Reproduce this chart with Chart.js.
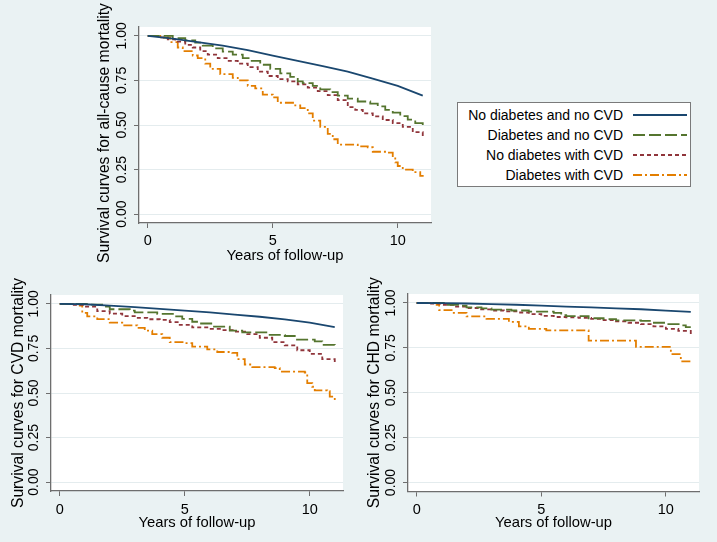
<!DOCTYPE html>
<html>
<head>
<meta charset="utf-8">
<script src="https://cdn.jsdelivr.net/npm/chart.js@4.4.0/dist/chart.umd.min.js"></script>
<style>
  html, body { margin: 0; padding: 0; background: #eaf2f3; }
  body { width: 717px; height: 542px; position: relative; overflow: hidden; font-family: "Liberation Sans", Arial, sans-serif; }
  canvas { position: absolute; }
  #legend { position: absolute; left: 457px; top: 102px; width: 232px; height: 83px; background: #fff; border: 1px solid #7a7a7a; }
  .row { position: absolute; left: 0; width: 100%; height: 20px; font-size: 14px; line-height: 20px; color: #000; }
  .row span { position: absolute; right: 67px; white-space: nowrap; }
  .row svg { position: absolute; left: 175px; top: 8px; }
</style>
</head>
<body>
<canvas id="allCause" width="450" height="270" style="left:0;top:0"></canvas>
<canvas id="cvd" width="358" height="272" style="left:0;top:270px"></canvas>
<canvas id="chd" width="359" height="272" style="left:358px;top:270px"></canvas>
<div id="legend"></div>
<script>
// series labels + axis ticks
const seriesLabels = ['No diabetes and no CVD', 'Diabetes and no CVD', 'No diabetes with CVD', 'Diabetes with CVD'];
const xTicks = [0, 5, 10];
const yTicks = [0, 0.25, 0.5, 0.75, 1];
const xTitle = 'Years of follow-up';

// all-cause mortality  [years, survival]
const allNoDmNoCvd = [[0,1],[1,0.985],[2,0.965],[3,0.945],[4,0.92],[5,0.89],[6,0.86],[7,0.83],[8,0.80],[9,0.76],[10,0.72],[11,0.665]];
const allDmNoCvd = [[0,1],[1.0,0.988],[1.5,0.975],[1.9,0.962],[2.2,0.945],[2.6,0.93],[3.0,0.912],[3.4,0.895],[3.8,0.875],[4.1,0.86],[4.5,0.838],[4.9,0.815],[5.3,0.79],[5.7,0.77],[6.0,0.745],[6.2,0.735],[6.6,0.72],[6.9,0.70],[7.3,0.685],[7.6,0.665],[8.0,0.648],[8.4,0.632],[8.9,0.62],[9.2,0.605],[9.5,0.585],[9.8,0.57],[10.1,0.55],[10.4,0.53],[10.7,0.51],[11,0.50]];
const allNoDmCvd = [[0,1],[0.4,0.992],[0.8,0.98],[1.1,0.968],[1.5,0.95],[1.8,0.935],[2.1,0.915],[2.4,0.895],[2.8,0.875],[3.2,0.86],[3.6,0.845],[4.0,0.825],[4.4,0.8],[4.8,0.775],[5.2,0.757],[5.6,0.745],[6.0,0.728],[6.4,0.71],[6.8,0.69],[7.2,0.668],[7.6,0.64],[8.0,0.6],[8.3,0.585],[8.6,0.565],[9.0,0.548],[9.4,0.528],[9.8,0.51],[10.2,0.49],[10.6,0.46],[11,0.435]];
const allDmCvd = [[0,1],[0.5,0.99],[0.9,0.965],[1.2,0.935],[1.4,0.915],[1.8,0.89],[2.0,0.875],[2.3,0.845],[2.5,0.815],[2.9,0.785],[3.4,0.765],[3.6,0.75],[4.0,0.72],[4.3,0.705],[4.6,0.67],[5.0,0.655],[5.2,0.625],[5.9,0.61],[6.1,0.595],[6.4,0.565],[6.6,0.525],[6.9,0.49],[7.2,0.45],[7.4,0.42],[7.6,0.39],[8.4,0.38],[8.8,0.375],[9.0,0.35],[9.6,0.345],[9.8,0.32],[9.9,0.29],[10.0,0.27],[10.2,0.25],[10.6,0.235],[10.9,0.215],[11,0.21]];

// CVD mortality
const cvdNoDmNoCvd = [[0,1],[1,0.998],[2,0.99],[3,0.982],[4,0.972],[5,0.962],[6,0.952],[7,0.94],[8,0.928],[9,0.913],[10,0.895],[11,0.87]];
const cvdDmNoCvd = [[0,1],[1.2,0.996],[1.8,0.985],[2.0,0.97],[2.8,0.962],[3.0,0.953],[3.9,0.944],[4.6,0.93],[4.9,0.916],[5.3,0.9],[5.6,0.89],[6.1,0.873],[6.8,0.85],[7.3,0.84],[8.3,0.826],[9.0,0.82],[9.4,0.80],[10.2,0.79],[10.5,0.77],[11,0.755]];
const cvdNoDmCvd = [[0,1],[0.5,0.995],[1,0.985],[1.5,0.96],[2,0.945],[2.5,0.932],[3,0.922],[3.5,0.914],[4,0.91],[4.4,0.898],[4.8,0.882],[5.3,0.868],[6,0.86],[6.5,0.853],[7,0.844],[7.5,0.83],[8,0.81],[8.5,0.785],[9,0.767],[9.5,0.74],[10,0.72],[10.5,0.69],[11,0.657]];
const cvdDmCvd = [[0,1],[0.8,0.99],[0.9,0.95],[1.1,0.93],[1.5,0.915],[2.0,0.895],[2.5,0.88],[3.1,0.865],[3.4,0.85],[3.7,0.83],[4.1,0.81],[4.4,0.785],[5.0,0.78],[5.3,0.76],[5.9,0.745],[6.3,0.73],[6.9,0.725],[7.1,0.69],[7.4,0.66],[7.7,0.645],[8.6,0.64],[8.8,0.62],[9.8,0.615],[9.9,0.555],[10.1,0.535],[10.2,0.515],[10.7,0.51],[10.8,0.48],[11,0.45]];

// CHD mortality
const chdNoDmNoCvd = [[0,1],[1,0.999],[2,0.997],[3,0.994],[4,0.99],[5,0.985],[6,0.98],[7,0.975],[8,0.97],[9,0.965],[10,0.957],[11,0.95]];
const chdDmNoCvd = [[0,1],[1.2,0.99],[1.8,0.985],[2.0,0.975],[2.6,0.97],[3.0,0.963],[3.8,0.958],[4.5,0.952],[5.5,0.945],[5.8,0.932],[6.0,0.927],[6.9,0.915],[7.5,0.91],[8.0,0.903],[9.0,0.9],[9.4,0.89],[10.1,0.882],[10.7,0.875],[10.8,0.865],[11,0.865]];
const chdNoDmCvd = [[0,1],[0.5,0.997],[1,0.99],[1.5,0.98],[2,0.972],[2.5,0.964],[3,0.958],[3.5,0.953],[4,0.947],[4.5,0.938],[5,0.928],[5.5,0.922],[6,0.92],[6.5,0.917],[7,0.912],[7.5,0.905],[8,0.897],[8.5,0.89],[9,0.882],[9.5,0.87],[10,0.856],[10.5,0.845],[11,0.82]];
const chdDmCvd = [[0,1],[0.8,0.99],[0.9,0.96],[1.4,0.945],[2.0,0.925],[2.8,0.912],[3.7,0.895],[4.1,0.87],[4.5,0.856],[5.2,0.847],[6.9,0.79],[8.8,0.755],[10.2,0.715],[10.6,0.675],[11,0.67]];

// styles (stata s2color)
const seriesColors = ['#1a476f', '#55752f', '#90353b', '#e37e00'];
const seriesDash = [[], [12, 4], [4, 3], [9, 3, 2, 3]];
const seriesStep = [false, 'before', 'before', 'before'];
const FONT = '"Liberation Sans", Arial, sans-serif';
const AXIS = '#6e6e6e';

// white plot region
const plotBg = {
  id: 'plotBg',
  beforeDraw(chart) {
    const { ctx, chartArea: a } = chart;
    ctx.save();
    ctx.fillStyle = '#fff';
    ctx.fillRect(a.left, a.top, a.right - a.left, a.bottom - a.top);
    ctx.restore();
  }
};

// rotated y tick labels + y title (stata style)
const yLabels = {
  id: 'yLabels',
  afterDraw(chart, args, opts) {
    const { ctx, chartArea: a } = chart;
    const y = chart.scales.y;
    ctx.save();
    ctx.fillStyle = '#000';
    ctx.textAlign = 'center';
    ctx.textBaseline = 'middle';
    ctx.font = '14px ' + FONT;
    y.ticks.forEach(t => {
      ctx.save();
      ctx.translate(a.left - 17, y.getPixelForValue(t.value));
      ctx.rotate(-Math.PI / 2);
      ctx.fillText(t.value.toFixed(2), 0, 0);
      ctx.restore();
    });
    ctx.font = '15.7px ' + FONT;
    ctx.translate(opts.titleX, (a.top + a.bottom) / 2 + (opts.titleShift || 0));
    ctx.rotate(-Math.PI / 2);
    ctx.fillText(opts.title, 0, 0);
    ctx.restore();
  }
};

function makePanel(id, series, cfg) {
  return new Chart(document.getElementById(id), {
    type: 'line',
    data: {
      datasets: series.map((d, i) => ({
        label: seriesLabels[i],
        data: d,
        borderColor: seriesColors[i],
        borderDash: seriesDash[i],
        borderWidth: 1.8,
        stepped: seriesStep[i],
        pointRadius: 0,
        tension: 0,
        fill: false
      }))
    },
    options: {
      responsive: false,
      animation: false,
      layout: { padding: cfg.pad },
      plugins: {
        legend: { display: false },
        tooltip: { enabled: false },
        yLabels: { title: cfg.yTitle, titleX: cfg.titleX, titleShift: cfg.titleShift }
      },
      scales: {
        x: {
          type: 'linear', min: -0.35, max: 11.33,
          afterBuildTicks: s => { s.ticks = xTicks.map(v => ({ value: v })); },
          afterFit: s => { s.height = cfg.xH; },
          grid: { drawOnChartArea: false, drawTicks: true, tickLength: 5, tickColor: AXIS },
          border: { display: true, color: AXIS, width: 1.3 },
          ticks: { color: '#000', font: { size: 14.5, family: FONT }, padding: cfg.tickPad, maxRotation: 0 },
          title: { display: true, text: xTitle, color: '#000', font: { size: 14.8, family: FONT }, padding: { top: 0, bottom: cfg.xTitlePad } }
        },
        y: {
          type: 'linear', min: -0.05, max: 1.05,
          afterBuildTicks: s => { s.ticks = yTicks.map(v => ({ value: v })); },
          afterFit: s => { s.width = cfg.yW; },
          grid: { color: '#e4ecee', lineWidth: 1, drawTicks: true, tickLength: 5, tickColor: AXIS },
          border: { display: true, color: AXIS, width: 1.3 },
          ticks: { display: false }
        }
      }
    },
    plugins: [plotBg, yLabels]
  });
}

makePanel('allCause', [allNoDmNoCvd, allDmNoCvd, allNoDmCvd, allDmCvd], {
  pad: { left: 92, top: 27, right: 19, bottom: 3 }, yW: 47, xH: 44, xTitlePad: 2, tickPad: 4,
  yTitle: 'Survival curves for all-cause mortality', titleX: 105, titleShift: 8
});
makePanel('cvd', [cvdNoDmNoCvd, cvdDmNoCvd, cvdNoDmCvd, cvdDmCvd], {
  pad: { left: 5, top: 25, right: 15, bottom: 8 }, yW: 46, xH: 43, xTitlePad: 2.5, tickPad: 5,
  yTitle: 'Survival curves for CVD mortality', titleX: 18.5, titleShift: 0
});
makePanel('chd', [chdNoDmNoCvd, chdDmNoCvd, chdNoDmCvd, chdDmCvd], {
  pad: { left: 4, top: 24, right: 18, bottom: 8 }, yW: 46, xH: 42.5, xTitlePad: 2.5, tickPad: 5,
  yTitle: 'Survival curves for CHD mortality', titleX: 17, titleShift: 0
});

// legend (labels left, line sample right)
const legend = document.getElementById('legend');
seriesLabels.forEach((lab, i) => {
  const row = document.createElement('div');
  row.className = 'row';
  row.style.top = (2 + i * 20) + 'px';
  const span = document.createElement('span');
  span.textContent = lab;
  row.appendChild(span);
  const dash = seriesDash[i].length ? seriesDash[i].join(' ') : 'none';
  row.insertAdjacentHTML('beforeend',
    `<svg width="54" height="4"><line x1="0" y1="2" x2="54" y2="2" stroke="${seriesColors[i]}" stroke-width="1.8" stroke-dasharray="${dash}"/></svg>`);
  legend.appendChild(row);
});
</script>
</body>
</html>
